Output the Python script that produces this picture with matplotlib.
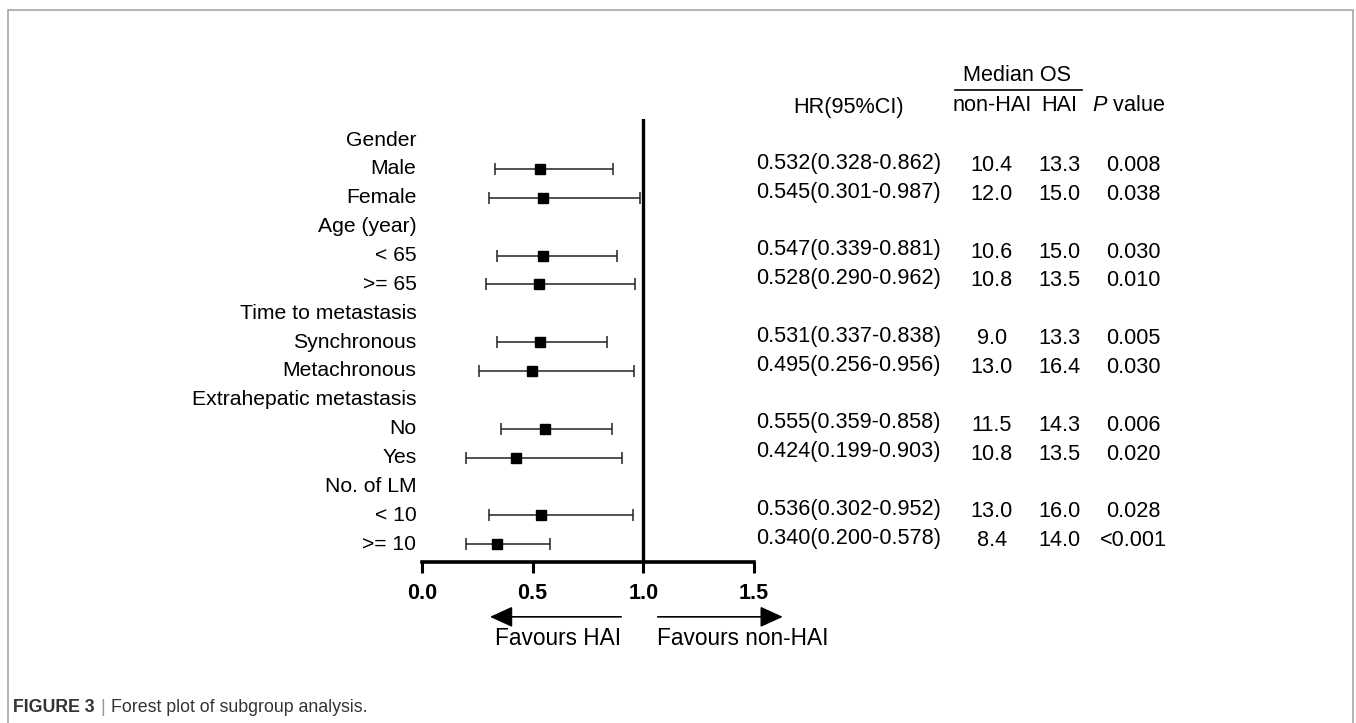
"""Forest plot of subgroup analysis (HAI vs non-HAI), saved to out.png."""
from __future__ import annotations

import numpy as np
import matplotlib

matplotlib.use("Agg")
import matplotlib.pyplot as plt
from matplotlib.patches import Rectangle

plt.rcParams["font.family"] = ["Liberation Sans", "DejaVu Sans"]
plt.rcParams["mathtext.fontset"] = "custom"
plt.rcParams["mathtext.rm"] = "Liberation Sans"
plt.rcParams["mathtext.it"] = "Liberation Sans:italic"

# rows, top to bottom; group headers have no estimate
labels = [
    "Gender", "Male", "Female",
    "Age (year)", "< 65", ">= 65",
    "Time to metastasis", "Synchronous", "Metachronous",
    "Extrahepatic metastasis", "No", "Yes",
    "No. of LM", "< 10", ">= 10",
]
hr = [np.nan, 0.532, 0.545, np.nan, 0.547, 0.528, np.nan, 0.531, 0.495,
      np.nan, 0.555, 0.424, np.nan, 0.536, 0.340]
ci_low = [np.nan, 0.328, 0.301, np.nan, 0.339, 0.290, np.nan, 0.337, 0.256,
          np.nan, 0.359, 0.199, np.nan, 0.302, 0.200]
ci_high = [np.nan, 0.862, 0.987, np.nan, 0.881, 0.962, np.nan, 0.838, 0.956,
           np.nan, 0.858, 0.903, np.nan, 0.952, 0.578]
os_non_hai = ["", "10.4", "12.0", "", "10.6", "10.8", "", "9.0", "13.0",
              "", "11.5", "10.8", "", "13.0", "8.4"]
os_hai = ["", "13.3", "15.0", "", "15.0", "13.5", "", "13.3", "16.4",
          "", "14.3", "13.5", "", "16.0", "14.0"]
p_values = ["", "0.008", "0.038", "", "0.030", "0.010", "", "0.005", "0.030",
            "", "0.006", "0.020", "", "0.028", "<0.001"]
xticks = [0.0, 0.5, 1.0, 1.5]

W, H = 1356, 723
FS_LAB = 15.2   # row labels
FS_TAB = 15.6   # table columns and headers


def main() -> None:
    fig = plt.figure(figsize=(W / 100, H / 100), dpi=100)
    # axes: x 0..1.5 spans px 422..754, y spans px 119..562
    ax = fig.add_axes([422 / W, 1 - 562 / H, (754 - 422) / W, (562 - 119) / H])
    n = len(labels)
    y = np.arange(n)
    ax.set_xlim(0, 1.5)
    ax.set_ylim(n - 1 + 0.62, -0.73)

    hr_a = np.array(hr)
    err = np.vstack([hr_a - np.array(ci_low), np.array(ci_high) - hr_a])
    ax.errorbar(hr_a, y, xerr=err, fmt="s", color="black", ecolor="#222222",
                elinewidth=1.1, capsize=4.5, capthick=1.1, markersize=7.5)
    ax.axvline(1.0, color="black", lw=2.4)

    for s in ("top", "right", "left"):
        ax.spines[s].set_visible(False)
    ax.spines["bottom"].set_linewidth(2.6)
    ax.set_yticks([])
    ax.set_xticks(xticks)
    ax.set_xticklabels([f"{t:.1f}" for t in xticks], fontsize=15.5, fontweight="bold")
    ax.tick_params(axis="x", length=8, width=2.2, pad=7)

    # row labels and table columns (x in data units, beyond the axes)
    for i in range(n):
        ax.text(-0.025, i, labels[i], ha="right", va="center", fontsize=FS_LAB,
                clip_on=False)
        if np.isnan(hr[i]):
            continue
        hr_txt = f"{hr[i]:.3f}({ci_low[i]:.3f}-{ci_high[i]:.3f})"
        ax.text(1.928, i - 0.2, hr_txt, ha="center", va="center", fontsize=FS_TAB)
        ax.text(2.574, i - 0.12, os_non_hai[i], ha="center", va="center", fontsize=FS_TAB)
        ax.text(2.88, i - 0.12, os_hai[i], ha="center", va="center", fontsize=FS_TAB)
        ax.text(3.215, i - 0.12, p_values[i], ha="center", va="center", fontsize=FS_TAB)

    # header
    ax.text(1.928, -1.14, "HR(95%CI)", ha="center", va="center", fontsize=FS_TAB)
    ax.text(2.69, -2.25, "Median OS", ha="center", va="center", fontsize=FS_TAB)
    ax.plot([2.41, 2.984], [-1.73, -1.73], color="black", lw=1.2, clip_on=False)
    ax.text(2.574, -1.21, "non-HAI", ha="center", va="center", fontsize=FS_TAB)
    ax.text(2.88, -1.21, "HAI", ha="center", va="center", fontsize=FS_TAB)
    ax.text(3.19, -1.21, r"$\mathit{P}$ value", ha="center", va="center",
            fontsize=FS_TAB)

    # direction arrows
    arrow = dict(arrowstyle="-|>,head_length=0.7,head_width=0.32", lw=1.2,
                 color="black", mutation_scale=20, shrinkA=0, shrinkB=0)
    ax.annotate("", xy=(0.307, 16.52), xytext=(0.90, 16.52), arrowprops=arrow,
                annotation_clip=False)
    ax.annotate("", xy=(1.63, 16.52), xytext=(1.065, 16.52), arrowprops=arrow,
                annotation_clip=False)
    ax.text(0.615, 17.26, "Favours HAI", ha="center", va="center", fontsize=16.3,
            clip_on=False)
    ax.text(1.45, 17.26, "Favours non-HAI", ha="center", va="center", fontsize=16.3,
            clip_on=False)

    # caption and frame
    fig.text(13 / W, 1 - 708 / H, "FIGURE 3", fontsize=12.8, fontweight="bold",
             color="#333333", va="center")
    fig.text(100 / W, 1 - 708 / H, "|", fontsize=12.8, color="#999999", va="center")
    fig.text(111 / W, 1 - 708 / H, "Forest plot of subgroup analysis.",
             fontsize=12.8, color="#333333", va="center")
    fig.add_artist(Rectangle((8 / W, -0.05), (1353 - 8) / W, 1.05 - 10 / H,
                             transform=fig.transFigure, fill=False,
                             edgecolor="#a6a6a6", lw=1.2))

    fig.savefig("out.png", dpi=100)


if __name__ == "__main__":
    main()
